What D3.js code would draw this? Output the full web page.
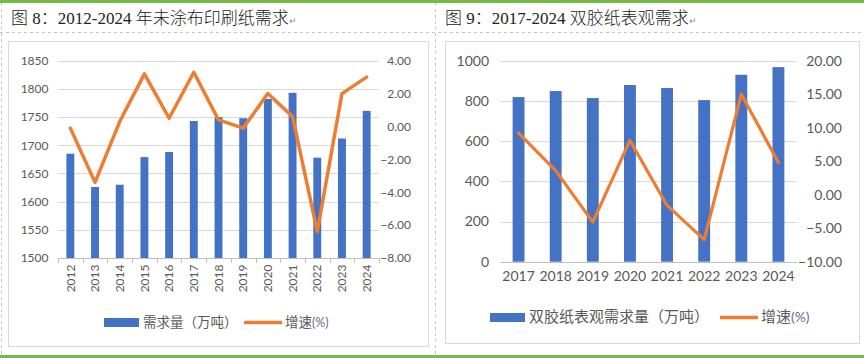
<!DOCTYPE html>
<html><head><meta charset="utf-8">
<script src="https://cdn.jsdelivr.net/npm/d3@7"></script>
<style>body{margin:0;background:#fff}svg{display:block}</style>
</head><body>
<svg id="c" width="864" height="358"></svg>
<script>
// ---- data ----
const years1 = ["2012","2013","2014","2015","2016","2017","2018","2019","2020","2021","2022","2023","2024"];
const demand1 = [1685,1626,1630,1679,1688,1743,1750,1748,1782,1793,1678,1712,1761];
const growth1 = [-0.1,-3.4,0.3,3.2,0.5,3.3,0.4,-0.1,2.0,0.6,-6.4,2.0,3.0];
const leftTicks1 = [1500,1550,1600,1650,1700,1750,1800,1850];
const rightTicks1 = [-8,-6,-4,-2,0,2,4];

const years2 = ["2017","2018","2019","2020","2021","2022","2023","2024"];
const demand2 = [819,849,814,879,864,804,930,968];
const growth2 = [9.2,3.6,-4.1,8.1,-1.6,-6.7,15.0,4.8];
const leftTicks2 = [0,200,400,600,800,1000];
const rightTicks2 = [-10,-5,0,5,10,15,20];

const title1 = "图 8：2012-2024 年未涂布印刷纸需求";
const title2 = "图 9：2017-2024 双胶纸表观需求";
const legend1 = ["需求量（万吨）","增速","(%)"];
const legend2 = ["双胶纸表观需求量（万吨）","增速","(%)"];

const BLUE="#4472C4", ORANGE="#ED7D31", GRID="#d9d9d9", TXT="#595959";
const svg = d3.select("#c");

// page decorations
svg.append("rect").attr("x",0).attr("y",0).attr("width",864).attr("height",3).attr("fill","#76b947");
svg.append("rect").attr("x",0).attr("y",355).attr("width",864).attr("height",3).attr("fill","#76b947");
const dash = {stroke:"#c6c6c6","stroke-dasharray":"3,3","stroke-width":1};
function dline(x1,y1,x2,y2){const l=svg.append("line").attr("x1",x1).attr("y1",y1).attr("x2",x2).attr("y2",y2);for(const k in dash)l.attr(k,dash[k]);}
dline(0,32.5,864,32.5);
dline(1.5,3,1.5,355);
dline(435.5,3,435.5,355);

function title(x,t){
  const tx = svg.append("text").attr("x",x).attr("y",24)
    .attr("font-family","'Liberation Serif','Noto Sans CJK SC',serif").attr("font-size",17).attr("font-weight",300).attr("fill","#222").text(t);
  tx.append("tspan").attr("font-family","'DejaVu Sans'").attr("font-size",9).attr("fill","#8090a8").text("↵");
}
title(11,title1);
title(445,title2);

function chart(o){
  const g = svg.append("g");
  g.append("rect").attr("x",o.frame[0]+0.5).attr("y",o.frame[1]+0.5).attr("width",o.frame[2]-o.frame[0]).attr("height",o.frame[3]-o.frame[1])
    .attr("fill","none").attr("stroke","#d9d9d9");
  const x = d3.scaleBand().domain(o.years).range([o.x0,o.x1]).paddingInner(0.68).paddingOuter(0.34);
  const yl = d3.scaleLinear().domain(o.ldom).range([o.yb,o.yt]);
  const yr = d3.scaleLinear().domain(o.rdom).range([o.yb,o.yt]);
  // grid
  g.selectAll(".gr").data(o.lticks.slice(1)).join("line")
    .attr("x1",o.x0).attr("x2",o.x1).attr("y1",d=>Math.round(yl(d))+0.5).attr("y2",d=>Math.round(yl(d))+0.5)
    .attr("stroke",GRID);
  // left axis
  const la = g.append("g").attr("transform",`translate(${o.lx},0)`)
    .call(d3.axisLeft(yl).tickValues(o.lticks).tickFormat(d3.format("d")).tickSize(0).tickPadding(0));
  la.select(".domain").remove();
  la.selectAll("text").attr("font-family","Lato").attr("font-size",o.fs).attr("fill",TXT);
  const ra = g.append("g").attr("transform",`translate(${o.rx},0)`)
    .call(d3.axisLeft(yr).tickValues(o.rticks).tickFormat(d3.format(".2f")).tickSize(0).tickPadding(0));
  ra.select(".domain").remove();
  ra.selectAll("text").attr("font-family","Lato").attr("font-size",o.fs).attr("fill",TXT);
  // bars
  g.selectAll(".bar").data(o.years).join("rect")
    .attr("x",d=>x(d)).attr("width",x.bandwidth())
    .attr("y",(d,i)=>yl(o.demand[i])).attr("height",(d,i)=>o.yb-yl(o.demand[i]))
    .attr("fill",BLUE);
  // bottom axis
  const ba = g.append("g").attr("transform",`translate(0,${Math.round(o.yb)+0.5})`)
    .call(d3.axisBottom(x).tickSize(0).tickPadding(0));
  ba.select(".domain").attr("stroke","#bfbfbf").attr("d",`M${o.x0},0H${o.x1}`);
  ba.selectAll("text").attr("font-family","Lato").attr("font-size",o.xfs).attr("fill",TXT);
  if(o.rotate){
    ba.selectAll(".tick text").attr("text-anchor","end").attr("transform","rotate(-90)")
      .attr("x",-6).attr("y",0).attr("dy","0.35em");
    const step = x.step();
    g.selectAll(".tk").data(d3.range(o.years.length+1)).join("line")
      .attr("x1",i=>Math.round(o.x0+i*step)+0.5).attr("x2",i=>Math.round(o.x0+i*step)+0.5)
      .attr("y1",Math.round(o.yb)).attr("y2",Math.round(o.yb)+5).attr("stroke","#bfbfbf");
  } else {
    ba.selectAll(".tick text").attr("y",o.xly).attr("dy","0");
  }
  // line
  const line = d3.line().x((d,i)=>x(o.years[i])+x.bandwidth()/2).y(d=>yr(d));
  g.append("path").datum(o.growth).attr("d",line).attr("fill","none")
    .attr("stroke",ORANGE).attr("stroke-width",o.lw).attr("stroke-linejoin","round").attr("stroke-linecap","round");
  // legend
  const L=o.leg;
  g.append("rect").attr("x",L.rx).attr("y",L.ry).attr("width",35).attr("height",9).attr("fill",BLUE);
  g.append("text").attr("x",L.rx+39).attr("y",L.ry+9).attr("font-family","'Noto Sans CJK SC'").attr("font-size",L.fs).attr("fill",TXT).text(o.legend[0]);
  g.append("line").attr("x1",L.lx).attr("x2",L.lx+38).attr("y1",L.ry+4.5).attr("y2",L.ry+4.5).attr("stroke",ORANGE).attr("stroke-width",3.5);
  const t2 = g.append("text").attr("x",L.lx+41).attr("y",L.ry+9).attr("font-family","'Noto Sans CJK SC'").attr("font-size",L.fs).attr("fill",TXT).text(o.legend[1]);
  t2.append("tspan").attr("font-family","Lato").attr("font-size",L.fs*0.92).attr("fill","#5b6f8f").text(o.legend[2]);
}

chart({frame:[8,41,428,346], years:years1, demand:demand1, growth:growth1,
  x0:58, x1:379, yb:258, yt:60.7, ldom:[1500,1850], rdom:[-8,4], lticks:leftTicks1, rticks:rightTicks1,
  lx:48.5, rx:411, fs:12, xfs:12, rotate:true, lw:3.5,
  legend:legend1, leg:{rx:104, ry:318, lx:244, fs:13.5}});

chart({frame:[445,41,859,343], years:years2, demand:demand2, growth:growth2,
  x0:500, x1:797, yb:261.7, yt:60.7, ldom:[0,1000], rdom:[-10,20], lticks:leftTicks2, rticks:rightTicks2,
  lx:489, rx:842, fs:14, xfs:14, rotate:false, xly:18, lw:3.2,
  legend:legend2, leg:{rx:490, ry:313, lx:720, fs:15}});
</script>
</body></html>
